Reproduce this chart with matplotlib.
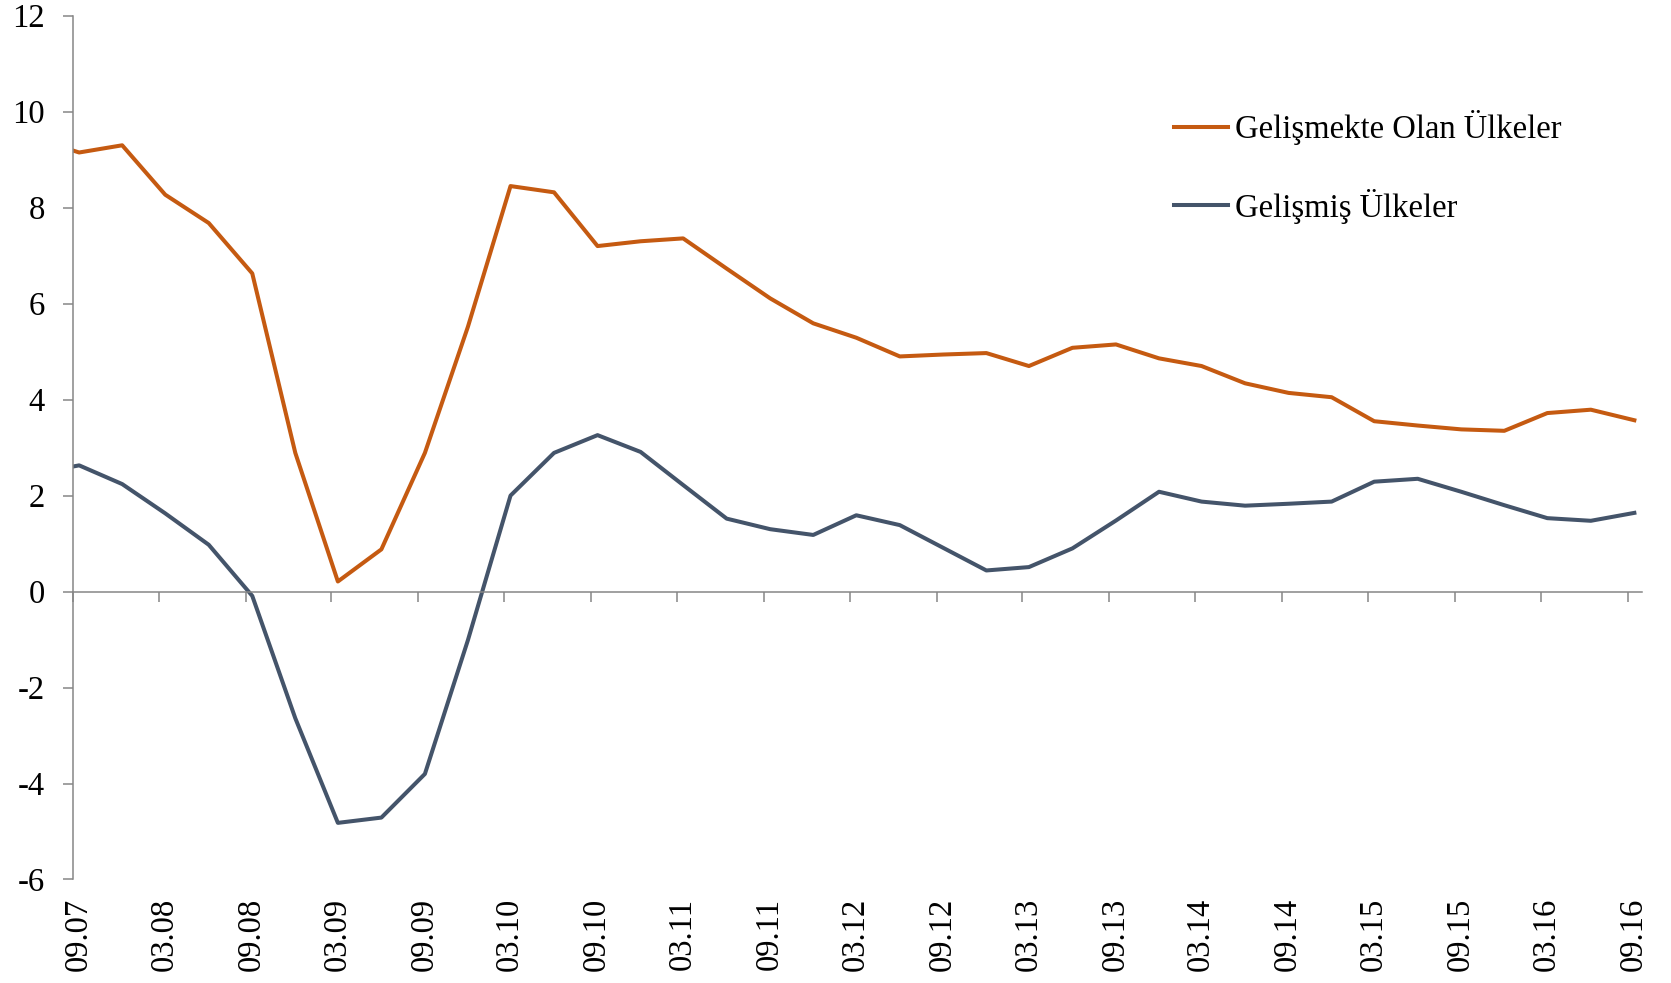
import matplotlib
matplotlib.use("Agg")
import matplotlib.pyplot as plt
import matplotlib.dates as mdates
import matplotlib.transforms as mtransforms
import pandas as pd

# ---- data (quarterly, mid-month of quarter-end month) ----
first_quarter = "2007-06-15"
gelismekte = [9.44, 9.15, 9.30, 8.27, 7.68, 6.63, 2.89, 0.21, 0.88, 2.89,
              5.52, 8.45, 8.32, 7.20, 7.30, 7.36, 6.73, 6.11, 5.59, 5.29,
              4.90, 4.94, 4.97, 4.70, 5.08, 5.15, 4.86, 4.70, 4.34, 4.14,
              4.05, 3.55, 3.46, 3.38, 3.35, 3.72, 3.79, 3.57]
gelismis = [2.46, 2.63, 2.24, 1.63, 0.975, -0.09, -2.64, -4.82, -4.71, -3.80,
            -1.01, 2.00, 2.89, 3.26, 2.91, 2.22, 1.52, 1.30, 1.18, 1.59,
            1.385, 0.91, 0.44, 0.51, 0.90, 1.48, 2.08, 1.875, 1.79, 1.83,
            1.875, 2.29, 2.35, 2.08, 1.80, 1.53, 1.475, 1.64]
series_names = ["Gelişmekte Olan Ülkeler", "Gelişmiş Ülkeler"]
tick_start, tick_end = "2007-09-01", "2016-09-01"
axis_start, axis_end = "2007-09-01", "2016-10-01"
y_ticks = [-6, -4, -2, 0, 2, 4, 6, 8, 10, 12]

plt.rcParams["font.family"] = ["Liberation Serif", "DejaVu Serif"]
FS = 23.5

dates = pd.date_range(first_quarter, periods=len(gelismekte), freq=pd.DateOffset(months=3))
x = mdates.date2num(dates.to_pydatetime())
tick_dates = pd.date_range(tick_start, tick_end, freq=pd.DateOffset(months=6))
xt = mdates.date2num(tick_dates.to_pydatetime())
xt_labels = [d.strftime("%m.%y") for d in tick_dates]

fig = plt.figure(figsize=(16.71, 9.83), dpi=100)
ax = fig.add_axes([0.0434, 0.1053, 0.9392, 0.8787])

orange = "#C55A11"
slate = "#44546A"
grey = "#868686"

ax.plot(x, gelismekte, color=orange, lw=2.9, label=series_names[0])
ax.plot(x, gelismis, color=slate, lw=2.9, label=series_names[1])

ax.set_xlim(mdates.date2num(pd.Timestamp(axis_start)), mdates.date2num(pd.Timestamp(axis_end)))
ax.set_ylim(-6, 12)
ax.set_yticks(y_ticks)
ax.set_yticklabels([str(v) for v in y_ticks])

for s in ["top", "right"]:
    ax.spines[s].set_visible(False)
ax.spines["left"].set_color(grey)
ax.spines["left"].set_linewidth(1.1)
ax.spines["bottom"].set_color(grey)
ax.spines["bottom"].set_linewidth(1.1)
ax.spines["bottom"].set_position(("data", 0))

ax.tick_params(axis="y", direction="out", length=7, width=1.1, color=grey,
               labelsize=FS, pad=13)
ax.set_xticks(xt)
ax.tick_params(axis="x", direction="out", length=7, width=1.1, color=grey,
               labelbottom=False)

sec = ax.secondary_xaxis("bottom")
sec.set_xticks(xt)
sec.set_xticklabels(xt_labels, rotation=90)
sec.tick_params(length=0, pad=13, labelsize=FS)
sec.spines["bottom"].set_visible(False)
offset = mtransforms.ScaledTranslation(6 / 100, 0, fig.dpi_scale_trans)
for lbl in sec.get_xticklabels():
    lbl.set_transform(lbl.get_transform() + offset)

fig.legend(loc="upper left", bbox_to_anchor=(0.7025, 0.888), frameon=False,
           fontsize=FS, handlelength=1.66, handletextpad=0.2, labelspacing=1.33,
           borderpad=0, borderaxespad=0)

fig.savefig("out.png", dpi=100, facecolor="white")
